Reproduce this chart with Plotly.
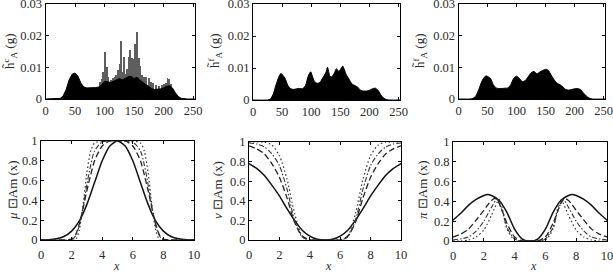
import plotly.graph_objects as go
from plotly.subplots import make_subplots

# ---------------- data ----------------
# Panel 1: histogram (black base + grey spikes)
h1_x = [0, 5, 10, 15, 20, 25, 30, 35, 40, 45, 50, 55, 60, 65, 70, 75, 80, 85, 90, 95,
        100, 105, 110, 115, 120, 125, 130, 135, 140, 145, 150, 155, 160, 165, 170, 175,
        180, 185, 190, 195, 200, 205, 210, 215, 220, 225, 230, 235, 240, 245, 250, 255]
h1_base = [0, 0, 0, 0, 0, 0.0002, 0.001, 0.003, 0.006, 0.0078, 0.0082, 0.0072, 0.005,
           0.0038, 0.0035, 0.0035, 0.0036, 0.0036, 0.0038, 0.0045, 0.0055, 0.0055, 0.0052,
           0.0055, 0.006, 0.0065, 0.006, 0.0065, 0.007, 0.0072, 0.0065, 0.0068, 0.006,
           0.005, 0.0045, 0.004, 0.0032, 0.003, 0.003, 0.0032, 0.0035, 0.004, 0.0042,
           0.0035, 0.002, 0.0008, 0.0002, 0, 0, 0, 0, 0]
h1_spike_x = [92, 95, 97, 100, 103, 106, 110, 113, 116, 119, 122, 125, 127, 130, 132,
              135, 138, 140, 142, 145, 148, 151, 154, 157, 160, 163, 166, 170, 174, 178,
              182, 187, 192, 196, 200, 203, 206, 209, 212]
h1_spike = [0.0055, 0.0062, 0.0085, 0.0148, 0.0101, 0.0068, 0.006, 0.0065, 0.0068,
            0.0075, 0.0093, 0.0112, 0.0183, 0.0085, 0.0133, 0.0078, 0.0095, 0.0133,
            0.0154, 0.0128, 0.0125, 0.0175, 0.0212, 0.0128, 0.0104, 0.0075, 0.0068,
            0.007, 0.0067, 0.0055, 0.005, 0.0044, 0.0042, 0.0045, 0.0048, 0.005,
            0.0065, 0.0062, 0.0048]

# Panel 2: smoothed histogram
h2_x = [0, 25, 30, 35, 40, 45, 48, 55, 60, 65, 70, 75, 80, 85, 90, 95, 99, 105, 110,
        115, 120, 125, 128, 132, 135, 140, 143, 147, 150, 154, 160, 165, 170, 175, 180,
        185, 190, 195, 200, 205, 210, 215, 220, 225, 230, 235, 255]
h2_y = [0, 0, 0.0003, 0.002, 0.005, 0.0075, 0.0083, 0.0068, 0.0045, 0.0035, 0.0033,
        0.0035, 0.0036, 0.0035, 0.0045, 0.0075, 0.0088, 0.006, 0.0052, 0.0055, 0.007,
        0.0085, 0.0102, 0.0075, 0.0072, 0.0085, 0.0098, 0.009, 0.0095, 0.0106, 0.008,
        0.0065, 0.005, 0.0045, 0.004, 0.003, 0.0028, 0.0028, 0.003, 0.0035, 0.0037,
        0.003, 0.0015, 0.0005, 0.0001, 0, 0]

# Panel 3: smoothed histogram
h3_x = [0, 20, 25, 30, 35, 40, 45, 48, 55, 60, 65, 70, 80, 85, 90, 95, 100, 105, 110,
        115, 120, 125, 130, 135, 140, 145, 151, 155, 160, 165, 170, 175, 180, 185, 190,
        195, 200, 205, 210, 215, 220, 225, 230, 255]
h3_y = [0, 0, 0.0002, 0.001, 0.003, 0.0055, 0.007, 0.0073, 0.0065, 0.0045, 0.0035,
        0.0033, 0.0034, 0.0035, 0.0045, 0.0065, 0.0072, 0.0065, 0.0055, 0.0058, 0.007,
        0.0083, 0.0087, 0.008, 0.0085, 0.009, 0.0094, 0.009, 0.0075, 0.006, 0.005,
        0.0045, 0.0038, 0.003, 0.0028, 0.003, 0.0032, 0.0033, 0.003, 0.002, 0.001,
        0.0003, 0, 0]

# Bottom row: membership (mu), non-membership (nu), hesitancy (pi)
grid = [0, 0.5, 1, 1.5, 2, 2.5, 3, 3.5, 4, 4.5, 5, 5.5, 6, 6.5, 7, 7.5, 8, 8.5, 9, 9.5, 10]
q_x = [0, 1, 2, 2.25, 2.5, 2.75, 3, 3.25, 3.5, 4, 4.5, 5, 5.5, 6, 6.5, 6.75, 7, 7.25,
       7.5, 7.75, 8, 9, 10]

mu_solid = [0, 0.003, 0.012, 0.035, 0.09, 0.19, 0.36, 0.58, 0.8, 0.95, 1, 0.95, 0.8,
            0.58, 0.36, 0.19, 0.09, 0.035, 0.012, 0.003, 0]
mu_dash = [0, 0, 0.01, 0.05, 0.16, 0.32, 0.5, 0.66, 0.8, 0.95, 1, 1, 1, 0.95, 0.8, 0.66,
           0.5, 0.32, 0.16, 0.05, 0.01, 0, 0]
mu_dashdot = [0, 0, 0, 0.04, 0.14, 0.33, 0.56, 0.76, 0.9, 0.99, 1, 1, 1, 0.99, 0.9,
              0.76, 0.56, 0.33, 0.14, 0.04, 0, 0, 0]
mu_dot = [0, 0, 0, 0, 0.1, 0.35, 0.68, 0.9, 0.98, 1, 1, 1, 1, 1, 0.98, 0.9, 0.68, 0.35,
          0.1, 0, 0, 0, 0]

nu_solid = [0.78, 0.73, 0.66, 0.56, 0.45, 0.32, 0.2, 0.1, 0.04, 0.008, 0, 0.008, 0.04,
            0.1, 0.2, 0.32, 0.45, 0.56, 0.66, 0.73, 0.78]
nu_dash = [0.96, 0.93, 0.88, 0.78, 0.64, 0.43, 0.18, 0.04, 0, 0, 0, 0, 0, 0.04, 0.18,
           0.43, 0.64, 0.78, 0.88, 0.93, 0.96]
nu_dashdot = [0.99, 0.98, 0.95, 0.88, 0.76, 0.52, 0.2, 0.03, 0, 0, 0, 0, 0, 0.03, 0.2,
              0.52, 0.76, 0.88, 0.95, 0.98, 0.99]
nu_dot = [1, 1, 1, 0.97, 0.86, 0.62, 0.27, 0.04, 0, 0, 0, 0, 0, 0.04, 0.27, 0.62, 0.86,
          0.97, 1, 1, 1]

pi_solid_x = [0, 0.5, 1, 1.5, 2, 2.25, 2.5, 3, 3.5, 4, 4.5, 5, 5.5, 6, 6.5, 7, 7.5,
              7.75, 8, 8.5, 9, 9.5, 10]
pi_solid = [0.21, 0.28, 0.36, 0.42, 0.46, 0.47, 0.46, 0.41, 0.29, 0.12, 0.02, 0, 0.02,
            0.12, 0.29, 0.41, 0.46, 0.47, 0.46, 0.42, 0.36, 0.28, 0.21]
pi_dash_x = [0, 0.5, 1, 1.5, 2, 2.5, 2.75, 3, 3.5, 4, 4.5, 5, 5.5, 6, 6.5, 7, 7.25, 7.5,
             8, 8.5, 9, 9.5, 10]
pi_dash = [0.04, 0.07, 0.12, 0.21, 0.31, 0.41, 0.43, 0.38, 0.18, 0.04, 0, 0, 0, 0.04,
           0.18, 0.38, 0.43, 0.41, 0.31, 0.21, 0.12, 0.07, 0.04]
pi_dashdot_x = [0, 1, 1.5, 2, 2.5, 2.85, 3.2, 3.5, 4, 4.5, 5, 5.5, 6, 6.5, 6.8, 7.15,
                7.5, 8, 8.5, 9, 10]
pi_dashdot = [0.01, 0.04, 0.1, 0.2, 0.34, 0.42, 0.3, 0.14, 0.02, 0, 0, 0, 0.02, 0.14,
              0.3, 0.42, 0.34, 0.2, 0.1, 0.04, 0.01]
pi_dot_x = [0, 0.5, 1, 1.5, 2, 2.5, 3, 3.25, 3.5, 4, 4.5, 5, 5.5, 6, 6.5, 6.75, 7, 7.5,
            8, 8.5, 9, 9.5, 10]
pi_dot = [0, 0, 0.01, 0.04, 0.11, 0.26, 0.42, 0.3, 0.12, 0.01, 0, 0, 0, 0.01, 0.12,
          0.3, 0.42, 0.26, 0.11, 0.04, 0.01, 0, 0]

top_xticks = [0, 50, 100, 150, 200, 250]
top_yticks = [0, 0.01, 0.02, 0.03]
top_ytext = ["0", "0.01", "0.02", "0.03"]
bot_xticks = [0, 2, 4, 6, 8, 10]
bot_yticks = [0, 0.2, 0.4, 0.6, 0.8, 1]
bot_ytext = ["0", "0.2", "0.4", "0.6", "0.8", "1"]

top_titles = ["h\u0303<sup>c</sup><sub>A</sub> (g)", "h\u0303<sup>f</sup><sub>A</sub> (g)",
              "h\u0303<sup>f</sup><sub>A</sub> (g)"]
bot_titles = ["<i>\u03bc</i> \u22a1Am (x)", "<i>\u03bd</i> \u22a1Am (x)",
              "<i>\u03c0</i> \u22a1Am (x)"]

# ---------------- figure ----------------
W, H = 613, 272
fig = make_subplots(rows=2, cols=3)

FONT = "Liberation Serif"
TXT = "#2a2a2a"

# panel 1
fig.add_trace(go.Bar(x=h1_spike_x, y=h1_spike, width=1.5, marker_color="#5e5e5e",
                     marker_line_width=0), row=1, col=1)
fig.add_trace(go.Scatter(x=h1_x, y=h1_base, mode="lines", fill="tozeroy",
                         fillcolor="black", line=dict(color="black", width=1)),
              row=1, col=1)
# panels 2, 3
fig.add_trace(go.Scatter(x=h2_x, y=h2_y, mode="lines", fill="tozeroy", fillcolor="black",
                         line=dict(color="black", width=1, shape="spline", smoothing=0.6)),
              row=1, col=2)
fig.add_trace(go.Scatter(x=h3_x, y=h3_y, mode="lines", fill="tozeroy", fillcolor="black",
                         line=dict(color="black", width=1, shape="spline", smoothing=0.6)),
              row=1, col=3)


def curve(x, y, dash, width, col, color="#111"):
    fig.add_trace(go.Scatter(x=x, y=y, mode="lines",
                             line=dict(color=color, width=width, dash=dash,
                                       shape="spline", smoothing=0.7)),
                  row=2, col=col)


for col, xs, data in [
    (1, [grid, q_x, q_x, q_x], [mu_solid, mu_dash, mu_dashdot, mu_dot]),
    (2, [grid, grid, grid, grid], [nu_solid, nu_dash, nu_dashdot, nu_dot]),
    (3, [pi_solid_x, pi_dash_x, pi_dashdot_x, pi_dot_x],
     [pi_solid, pi_dash, pi_dashdot, pi_dot]),
]:
    curve(xs[0], data[0], "solid", 1.5, col)
    curve(xs[1], data[1], "6px,3px", 1.3, col, "#222")
    curve(xs[2], data[2], "5px,2px,1.5px,2px", 1.1, col, "#333")
    curve(xs[3], data[3], "1.5px,2.5px", 1.2, col, "#333")

# pixel domains (left, right, top, bottom)
doms = {
    (1, 1): (45.5, 194.5, 4, 99),
    (1, 2): (253, 400, 4, 100),
    (1, 3): (458.5, 605, 4, 99),
    (2, 1): (41, 194, 141, 240),
    (2, 2): (249, 401, 142, 240),
    (2, 3): (453, 607, 142, 241),
}
axis_common = dict(showline=True, linecolor="black", linewidth=1, mirror="ticks",
                   ticks="inside", ticklen=3, tickcolor="black", showgrid=False,
                   zeroline=False, automargin=False, ticklabeloverflow="allow",
                   tickfont=dict(family=FONT, size=12.5, color=TXT))
idx = 0
for (r, c), (l, rr, t, b) in doms.items():
    idx += 1
    xa = "xaxis" if idx == 1 else f"xaxis{idx}"
    ya = "yaxis" if idx == 1 else f"yaxis{idx}"
    if r == 1:
        xr = [0, 252.5]
        xt = dict(tickvals=top_xticks)
        yr = [0, 0.03]
        yt = dict(tickvals=top_yticks, ticktext=top_ytext)
    else:
        xr = [0, 10]
        xt = dict(tickvals=bot_xticks, ticklabelstandoff=3)
        yr = [0, 1]
        yt = dict(tickvals=bot_yticks, ticktext=bot_ytext)
    fig.layout[xa].update(domain=[l / W, rr / W], range=xr, **xt, **axis_common)
    fig.layout[ya].update(domain=[1 - b / H, 1 - t / H], range=yr, **yt, **axis_common)

# y-axis titles as annotations
ytitle_pos = [(10, 51, top_titles[0]), (215, 51, top_titles[1]), (420, 51, top_titles[2]),
              (12, 190, bot_titles[0]), (217, 190, bot_titles[1]), (422, 190, bot_titles[2])]
for px, py, txt in ytitle_pos:
    fig.add_annotation(x=px / W, y=1 - py / H, xref="paper", yref="paper", text=txt,
                       textangle=-90, showarrow=False,
                       font=dict(family=FONT, size=13, color=TXT),
                       xanchor="center", yanchor="middle")
for px in [117, 328, 533]:
    fig.add_annotation(x=px / W, y=1 - 266 / H, xref="paper", yref="paper",
                       text="<i>x</i>", showarrow=False,
                       font=dict(family=FONT, size=12, color=TXT),
                       xanchor="center", yanchor="middle")

fig.update_layout(width=W, height=H, margin=dict(l=0, r=0, t=0, b=0),
                  paper_bgcolor="white", plot_bgcolor="white", showlegend=False,
                  bargap=0)
fig.write_html("out.html", config={"displayModeBar": False},
               post_script="document.body.style.margin='0';"
                           "document.body.style.overflow='hidden';")
